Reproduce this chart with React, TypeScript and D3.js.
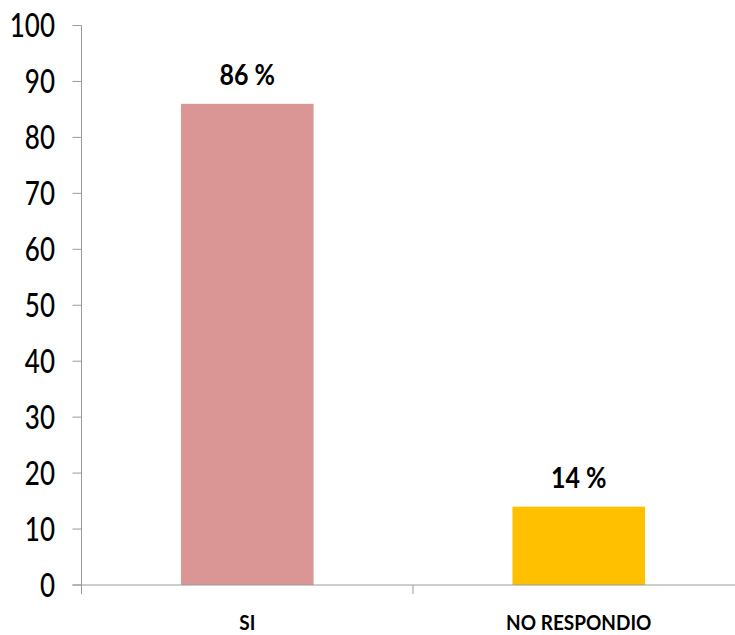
import React from "react";
import * as d3 from "d3";

const categories = ["SI", "NO RESPONDIO"];
const values = [86, 14];
const barColors = ["#D99694", "#FFC000"];
const valueLabels = ["86 %", "14 %"];
const yTicks = [0, 10, 20, 30, 40, 50, 60, 70, 80, 90, 100];

const W = 735;
const H = 635;
const FONT = "Lato, 'Open Sans', sans-serif";

export default function App() {
  const x0 = 81.5;
  const x1 = 744.5;
  const yTop = 25.5;
  const yBot = 585;
  const x = d3.scaleBand<string>().domain(categories).range([x0, x1]).padding(0);
  const y = d3.scaleLinear().domain([0, 100]).range([yBot, yTop]);
  const bw = x.bandwidth() * 0.4;
  const axisColor = "#9a9a9a";

  return (
    <svg
      width={W}
      height={H}
      style={{ position: "absolute", left: 0, top: 0, background: "#fff" }}
    >
      {categories.map((c, i) => {
        const cx = (x(c) as number) + x.bandwidth() / 2;
        return (
          <g key={c}>
            <rect
              x={cx - bw / 2}
              y={y(values[i])}
              width={bw}
              height={yBot - y(values[i])}
              fill={barColors[i]}
            />
            <text
              transform={`translate(${cx},${y(values[i]) - 18.5}) scale(1,1.15)`}
              textAnchor="middle"
              fontFamily={FONT}
              fontWeight="bold"
              fontSize={25}
              fill="#000"
            >
              {valueLabels[i]}
            </text>
            <text
              transform={`translate(${cx},630) scale(1,1.12)`}
              textAnchor="middle"
              fontFamily={FONT}
              fontWeight="bold"
              fontSize={19}
              fill="#000"
            >
              {c}
            </text>
          </g>
        );
      })}
      {/* y axis */}
      <line x1={x0} x2={x0} y1={y(100)} y2={yBot + 9} stroke={axisColor} strokeWidth={1} />
      {yTicks.map((t) => (
        <g key={t}>
          <line x1={x0 - 9} x2={x0} y1={y(t)} y2={y(t)} stroke={axisColor} strokeWidth={1} />
          <text
            transform={`translate(55,${y(t) + 11.5}) scale(1,1.26)`}
            textAnchor="end"
            fontFamily={FONT}
            fontSize={26}
            fontWeight={500}
            fill="#000"
          >
            {t}
          </text>
        </g>
      ))}
      {/* x axis */}
      <line x1={x0 - 9} x2={W} y1={yBot} y2={yBot} stroke={axisColor} strokeWidth={1} />
      {categories.slice(1).map((c) => (
        <line
          key={c}
          x1={x(c) as number}
          x2={x(c) as number}
          y1={yBot}
          y2={yBot + 9}
          stroke={axisColor}
          strokeWidth={1}
        />
      ))}
    </svg>
  );
}
